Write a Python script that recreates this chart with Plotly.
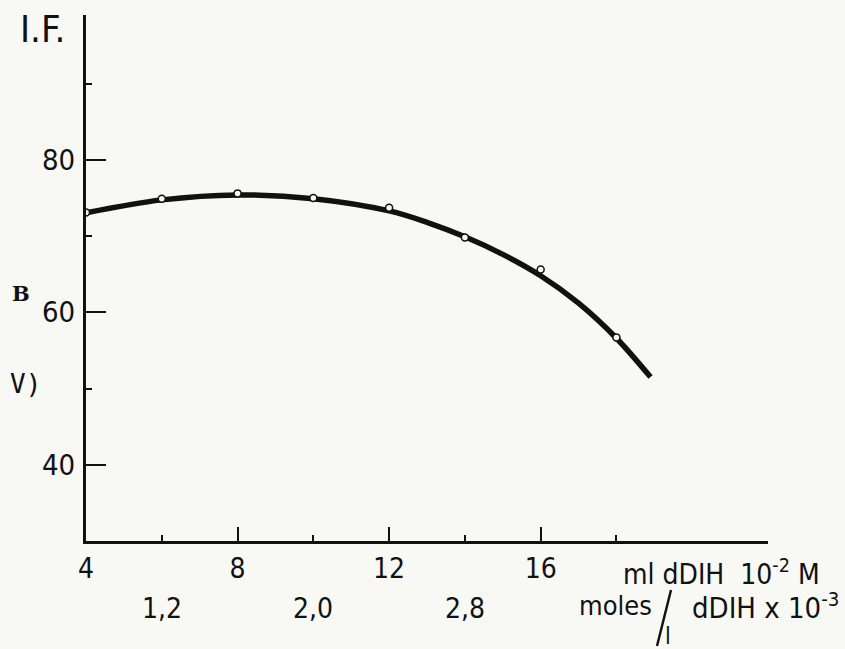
import plotly.graph_objects as go

# Fluorescence intensity vs. volume of dDIH 10^-2 M added (measured points)
ml_ddih = [4, 6, 8, 10, 12, 14, 16, 18]
intensidad = [73.1, 74.9, 75.6, 75.0, 73.7, 69.8, 65.6, 56.7]

# hand-drawn smoothing curve, read along its path
curva_x = [4, 6, 8, 10, 12, 13, 14, 15, 16, 17, 18, 18.9]
curva_y = [73.05, 74.75, 75.4, 74.9, 73.3, 71.8, 69.9, 67.6, 64.8, 61.2, 56.6, 51.5]

x_major = [4, 8, 12, 16]
x_minor = [6, 10, 14, 18]
y_major = [40, 60, 80]
y_minor = [50, 70, 90]

# secondary scale: moles/l dDIH x 10^-3
moles_pos = [6, 10, 14]
moles_txt = ["1,2", "2,0", "2,8"]

FONT = "DejaVu Sans Condensed, DejaVu Sans, sans-serif"
INK = "#111111"
BG = "#f8f8f5"

fig = go.Figure()
fig.add_trace(go.Scatter(
    x=curva_x, y=curva_y, mode="lines",
    line=dict(color=INK, width=5.5, shape="spline", smoothing=1.0),
    hoverinfo="skip", showlegend=False,
))
fig.add_trace(go.Scatter(
    x=ml_ddih, y=intensidad, mode="markers",
    marker=dict(symbol="circle", size=7, color=BG,
                line=dict(color=INK, width=1.5)),
    showlegend=False,
))

fig.update_xaxes(
    range=[4, 22], showgrid=False, zeroline=False,
    showline=True, linecolor=INK, linewidth=3,
    tickmode="array", tickvals=x_major, ticktext=[str(v) for v in x_major],
    ticks="inside", ticklen=14, tickwidth=2, tickcolor=INK,
    minor=dict(tickmode="array", tickvals=x_minor, ticks="inside",
               ticklen=6, tickwidth=2, tickcolor=INK),
    tickfont=dict(family=FONT, size=28, color=INK),
)
fig.update_yaxes(
    range=[30, 99], showgrid=False, zeroline=False,
    showline=True, linecolor=INK, linewidth=3,
    tickmode="array", tickvals=y_major, ticktext=[str(v) for v in y_major],
    ticks="inside", ticklen=20, tickwidth=2, tickcolor=INK,
    minor=dict(tickmode="array", tickvals=y_minor, ticks="inside",
               ticklen=6, tickwidth=2, tickcolor=INK),
    tickfont=dict(family=FONT, size=29, color=INK),
    ticklabelstandoff=2,
)

plot_l, plot_w = 86, 682
plot_t, plot_h = 15, 526


def to_paper(xp, yp):
    return (xp - plot_l) / plot_w, 1 - (yp - plot_t) / plot_h


def page_ann(text, xp, yp, size, family=FONT, xanchor="left"):
    px, py = to_paper(xp, yp)
    return dict(
        text=text, x=px, y=py, xref="paper", yref="paper",
        xanchor=xanchor, yanchor="middle", showarrow=False,
        font=dict(family=family, size=size, color=INK),
    )


annotations = []
for xv, t in zip(moles_pos, moles_txt):
    _, py = to_paper(0, 608)
    annotations.append(dict(
        x=xv, xref="x", y=py, yref="paper", text=t, showarrow=False,
        yanchor="middle",
        font=dict(family=FONT, size=28, color=INK),
    ))

annotations += [
    page_ann("I.F.", 18, 29, 38),
    page_ann("ml dDIH  10<sup>-2</sup> M", 621, 572, 28),
    page_ann("moles", 654, 605, 27, xanchor="right"),
    page_ann("l", 663, 636, 23),
    page_ann("dDIH x 10<sup>-3</sup>", 690, 606, 29),
    page_ann("<b>B</b>", 10, 293, 21, family="DejaVu Serif, serif"),
    page_ann("V)", 8, 384, 26, family="DejaVu Sans Mono, monospace"),
]

# the slash of "moles/l"
sx0, sy0 = to_paper(671, 590)
sx1, sy1 = to_paper(657, 646)
shapes = [dict(type="line", xref="paper", yref="paper",
               x0=sx0, y0=sy0, x1=sx1, y1=sy1,
               line=dict(color=INK, width=2.5))]

fig.update_layout(
    width=845, height=649,
    margin=dict(l=plot_l, r=845 - plot_l - plot_w, t=plot_t,
                b=649 - plot_t - plot_h),
    paper_bgcolor=BG, plot_bgcolor=BG,
    showlegend=False,
    annotations=annotations, shapes=shapes,
)

fig.write_html("out.html")
